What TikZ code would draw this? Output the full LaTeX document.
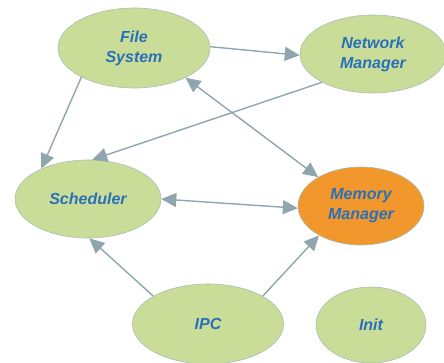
\documentclass[tikz,border=0pt]{standalone}
\usepackage{fontspec}
\setmainfont{Liberation Sans}
\usetikzlibrary{shapes.geometric}
\usetikzlibrary{arrows.meta}

\definecolor{nodegreen}{HTML}{C9DD98}
\definecolor{nodeorange}{HTML}{F1972C}
\definecolor{textblue}{HTML}{2A70B8}
\definecolor{edgegray}{HTML}{8FA6AE}
\definecolor{rimgray}{HTML}{A9BDB0}

\begin{document}
\begin{tikzpicture}[x=1pt,y=-1pt,
		module/.style={ellipse,draw=rimgray,line width=0.6pt,fill=nodegreen,inner sep=0pt,
			align=center,text=textblue,font=\fontsize{16}{20}\selectfont\bfseries\itshape},
		link/.style={draw=edgegray,line width=1.4pt,-{Triangle[length=15pt,width=14pt]}},
		bilink/.style={link,{Triangle[length=15pt,width=14pt]}-{Triangle[length=15pt,width=14pt]}}]
		\clip (0,0) rectangle (444,362);
		\useasboundingbox (0,0) rectangle (444,362);
		\node [module,minimum width=152pt,minimum height=80pt] (fs) at (134,48) {File\\System};
		\node [module,minimum width=146pt,minimum height=78pt] (nm) at (373,54) {Network\\Manager};
		\node [module,minimum width=146pt,minimum height=78pt] (sch) at (88,199) {Scheduler};
		\node [module,fill=nodeorange,minimum width=126pt,minimum height=78pt] (mm) at (361,206) {Memory\\Manager};
		\node [module,minimum width=151pt,minimum height=80pt] (ipc) at (208,324) {IPC};
		\node [module,minimum width=110pt,minimum height=76pt] (init) at (371,325) {Init};
		\draw [link] (fs.1) -- (nm.181);
		\draw [link] (fs.209) -- (sch.147);
		\draw [link] (nm.209) -- (sch.84);
		\draw [bilink] (fs.-30) -- (mm.146);
		\draw [bilink] (sch.0) -- (mm.182);
		\draw [link] (ipc.153) -- (sch.-88);
		\draw [link] (ipc.27) -- (mm.215);
	\end{tikzpicture}
\end{document}
